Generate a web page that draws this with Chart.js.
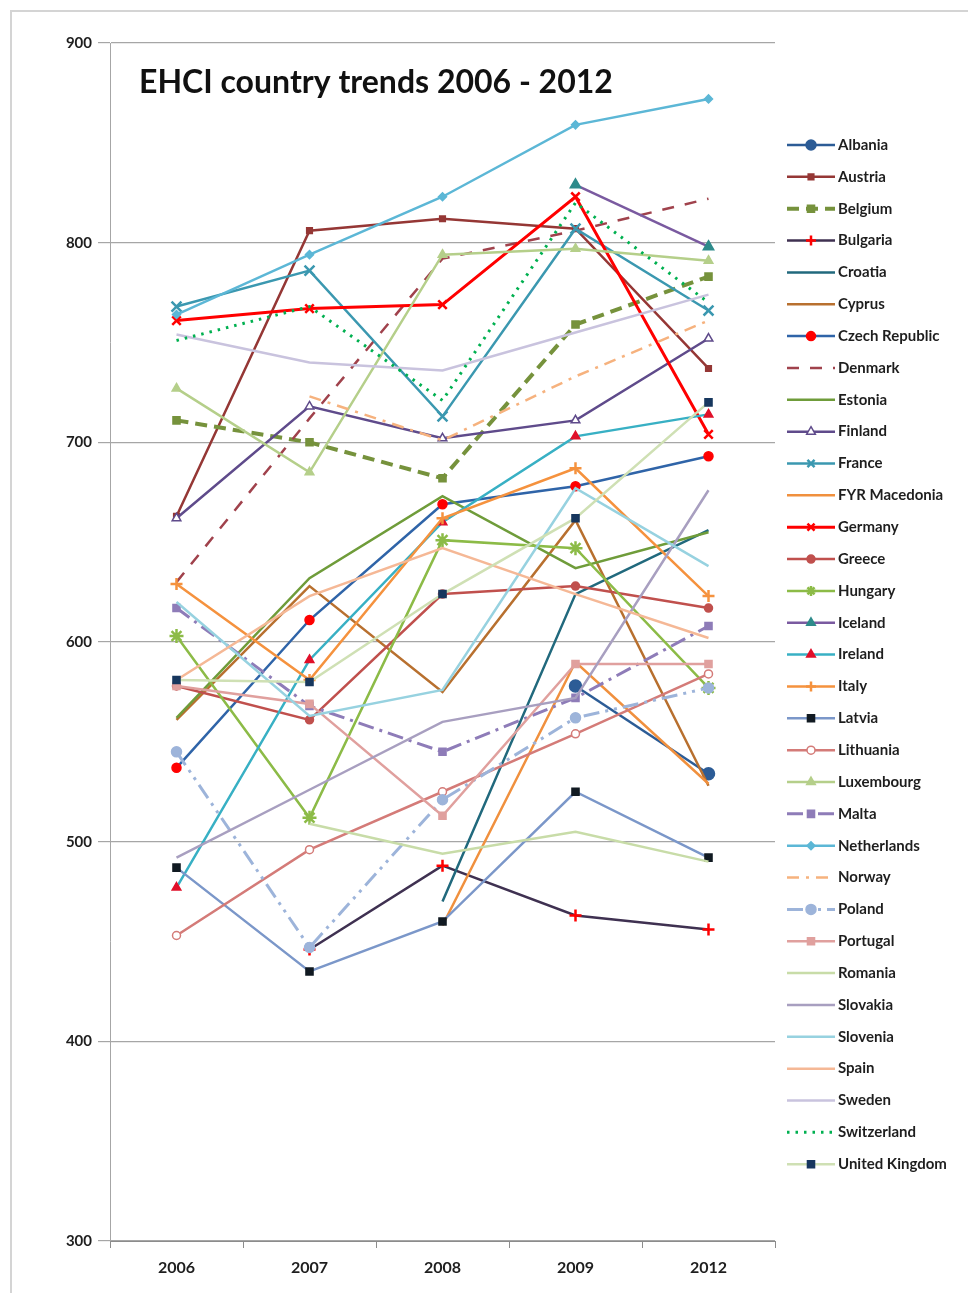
<!DOCTYPE html>
<html>
<head>
<meta charset="utf-8">
<title>EHCI country trends 2006 - 2012</title>
<script src="https://cdn.jsdelivr.net/npm/chart.js@4.4.1/dist/chart.umd.min.js"></script>
<style>
  html, body { margin: 0; padding: 0; background: #ffffff; }
  #wrap { width: 968px; height: 1293px; position: relative; }
</style>
</head>
<body>
<div id="wrap"><canvas id="c" width="968" height="1293"></canvas></div>
<script>
// Survey years on the category axis
const years = ['2006', '2007', '2008', '2009', '2012'];

// Y axis range and tick step
const yMin = 300;
const yMax = 900;
const yStep = 100;

// EHCI total scores per country (null = not covered that year)
const albania     = [null, null, null, 578, 534];
const austria     = [663, 806, 812, 807, 737];
const belgium     = [711, 700, 682, 759, 783];
const bulgaria    = [null, 446, 488, 463, 456];
const croatia     = [null, null, 470, 624, 656];
const cyprus      = [561, 628, 575, 661, 528];
const czechRep    = [537, 611, 669, 678, 693];
const denmark     = [630, 712, 792, 806, 822];
const estonia     = [562, 632, 673, 637, 655];
const finland     = [662, 718, 702, 711, 752];
const france      = [768, 786, 713, 807, 766];
const fyrMacedonia= [null, null, 458, 590, 529];
const germany     = [761, 767, 769, 823, 704];
const greece      = [578, 561, 624, 628, 617];
const hungary     = [603, 512, 651, 647, 577];
const iceland     = [null, null, null, 829, 798];
const ireland     = [477, 591, 660, 703, 714];
const italy       = [629, 581, 662, 687, 623];
const latvia      = [487, 435, 460, 525, 492];
const lithuania   = [453, 496, 525, 554, 584];
const luxembourg  = [727, 685, 794, 797, 791];
const malta       = [617, 568, 545, 572, 608];
const netherlands = [764, 794, 823, 859, 872];
const norway      = [null, 723, 701, 733, 761];
const poland      = [545, 447, 521, 562, 577];
const portugal    = [578, 569, 513, 589, 589];
const romania     = [null, 509, 494, 505, 490];
const slovakia    = [492, 526, 560, 572, 676];
const slovenia    = [620, 563, 576, 677, 638];
const spain       = [581, 623, 647, 624, 602];
const sweden      = [754, 740, 736, 755, 774];
const switzerland = [751, 768, 721, 820, 770];
const unitedKingdom = [581, 580, 624, 662, 720];

// Country names in legend order, paired with their score arrays
const countries = [
  'Albania', 'Austria', 'Belgium', 'Bulgaria', 'Croatia', 'Cyprus', 'Czech Republic',
  'Denmark', 'Estonia', 'Finland', 'France', 'FYR Macedonia', 'Germany', 'Greece',
  'Hungary', 'Iceland', 'Ireland', 'Italy', 'Latvia', 'Lithuania', 'Luxembourg',
  'Malta', 'Netherlands', 'Norway', 'Poland', 'Portugal', 'Romania', 'Slovakia',
  'Slovenia', 'Spain', 'Sweden', 'Switzerland', 'United Kingdom'
];
const scores = [
  albania, austria, belgium, bulgaria, croatia, cyprus, czechRep,
  denmark, estonia, finland, france, fyrMacedonia, germany, greece,
  hungary, iceland, ireland, italy, latvia, lithuania, luxembourg,
  malta, netherlands, norway, poland, portugal, romania, slovakia,
  slovenia, spain, sweden, switzerland, unitedKingdom
];

// Line and marker look for each country, same order as above
// [line colour, line width, dash, marker style, marker radius, marker fill, marker border]
const looks = [
  ['#2c5c96', 2.5, [],            'circle',   6,  '#2c5c96', '#2c5c96'],
  ['#953735', 2.5, [],            'rect',     4,  '#953735', '#953735'],
  ['#76923c', 4,   [12, 7],       'rect',     5,  '#76923c', '#76923c'],
  ['#3f3151', 2.5, [],            'cross',    6,  '#ff0000', '#ff0000'],
  ['#21697d', 2.5, [],            false,      0,  null,      null],
  ['#b8702f', 2.5, [],            false,      0,  null,      null],
  ['#2f64a8', 2.5, [],            'circle',   4.5,'#ff0000', '#ff0000'],
  ['#a0424c', 2.5, [12, 11],      false,      0,  null,      null],
  ['#6f9c3a', 2.5, [],            false,      0,  null,      null],
  ['#5f4b8b', 2.5, [],            'triangle', 5,  '#ffffff', '#5f4b8b'],
  ['#3b98b0', 2.5, [],            'crossRot', 7,  '#3b98b0', '#3b98b0'],
  ['#f0903e', 2.5, [],            false,      0,  null,      null],
  ['#ff0000', 3,   [],            'crossRot', 6,  '#ff0000', '#ff0000'],
  ['#c0504d', 2.5, [],            'circle',   4,  '#c0504d', '#c0504d'],
  ['#8cbb47', 2.5, [],            'star',     7,  '#8cbb47', '#8cbb47'],
  ['#7a5aa0', 2.5, [],            'triangle', 6,  '#2e8b8b', '#2e8b8b'],
  ['#38b0c4', 2.5, [],            'triangle', 5,  '#e0102a', '#e0102a'],
  ['#f5923e', 2.5, [],            'cross',    6,  '#f5923e', '#f5923e'],
  ['#7b97c9', 2.5, [],            'rect',     5,  '#111a22', '#111a22'],
  ['#d47b78', 2.5, [],            'circle',   4,  '#ffffff', '#d47b78'],
  ['#b5cf8a', 2.5, [],            'triangle', 5,  '#b5cf8a', '#b5cf8a'],
  ['#8e7cb8', 3,   [16, 6, 3, 6], 'rect',     5,  '#8e7cb8', '#8e7cb8'],
  ['#5cb7d6', 2.5, [],            'rectRot',  4,  '#5cb7d6', '#5cb7d6'],
  ['#f6b27e', 2.5, [12, 7, 3, 7], false,      0,  null,      null],
  ['#9db4da', 3,   [16, 6, 3, 6, 3, 6], 'circle', 5, '#9db4da', '#9db4da'],
  ['#e0a09e', 2.5, [],            'rect',     5,  '#e0a09e', '#e0a09e'],
  ['#c8dca8', 2.5, [],            false,      0,  null,      null],
  ['#a89fc0', 2.5, [],            false,      0,  null,      null],
  ['#97d2e0', 2.5, [],            false,      0,  null,      null],
  ['#f5b896', 2.5, [],            false,      0,  null,      null],
  ['#c9c3de', 2.5, [],            false,      0,  null,      null],
  ['#00b050', 3,   [2.5, 6],      false,      0,  null,      null],
  ['#cfe0b4', 2.5, [],            'rect',     5,  '#17375e', '#17375e']
];

const datasets = countries.map((name, i) => {
  const [color, width, dash, style, radius, fill, border] = looks[i];
  return {
    label: name,
    data: scores[i],
    borderColor: color,
    borderWidth: width,
    borderDash: dash,
    pointStyle: style,
    pointRadius: radius,
    pointHoverRadius: radius,
    pointBackgroundColor: fill || color,
    pointBorderColor: border || color,
    pointBorderWidth: style === 'cross' || style === 'crossRot' || style === 'star' ? 2.5 : 1.5,
    tension: 0,
    fill: false,
    spanGaps: false,
    order: countries.length - i
  };
});

// White page with a thin grey frame around the whole chart
const framePlugin = {
  id: 'frame',
  beforeDraw(chart) {
    const ctx = chart.ctx;
    ctx.save();
    ctx.fillStyle = '#ffffff';
    ctx.fillRect(0, 0, chart.width, chart.height);
    ctx.strokeStyle = '#d4d4d4';
    ctx.lineWidth = 2;
    ctx.strokeRect(11, 11, chart.width - 8, chart.height + 20);
    ctx.restore();
  }
};

// Title drawn inside the plot area, top left
const titlePlugin = {
  id: 'innerTitle',
  afterDraw(chart) {
    const ctx = chart.ctx;
    ctx.save();
    ctx.font = 'bold 32px Lato, "Open Sans", sans-serif';
    ctx.fillStyle = '#111111';
    ctx.textBaseline = 'middle';
    ctx.textAlign = 'left';
    ctx.fillText('EHCI country trends 2006 - 2012', chart.chartArea.left + 29, chart.chartArea.top + 40);
    ctx.restore();
  }
};

// Single-column legend on the right: line sample with its marker, then the name
const legendPlugin = {
  id: 'sideLegend',
  afterDraw(chart) {
    const ctx = chart.ctx;
    const top = 145;
    const step = 31.85;
    const x0 = chart.chartArea.right + 12;
    const x1 = x0 + 48;
    chart.data.datasets.forEach((ds, i) => {
      const y = top + i * step;
      ctx.save();
      ctx.strokeStyle = ds.borderColor;
      ctx.lineWidth = ds.borderWidth;
      ctx.setLineDash(ds.borderDash || []);
      ctx.beginPath();
      ctx.moveTo(x0, y);
      ctx.lineTo(x1, y);
      ctx.stroke();
      ctx.setLineDash([]);
      if (ds.pointStyle && ds.pointRadius > 0) {
        ctx.fillStyle = ds.pointBackgroundColor;
        ctx.strokeStyle = ds.pointBorderColor;
        ctx.lineWidth = ds.pointBorderWidth;
        const r = Math.min(ds.pointRadius, 5);
        const opts = { pointStyle: ds.pointStyle, radius: r, borderWidth: ds.pointBorderWidth, rotation: 0 };
        if (Chart.helpers && Chart.helpers.drawPoint) {
          Chart.helpers.drawPoint(ctx, opts, (x0 + x1) / 2, y);
        } else {
          ctx.beginPath();
          ctx.arc((x0 + x1) / 2, y, r, 0, Math.PI * 2);
          ctx.fill();
          ctx.stroke();
        }
      }
      ctx.font = 'bold 15px Lato, "Open Sans", sans-serif';
      ctx.fillStyle = '#1e1e1e';
      ctx.textAlign = 'left';
      ctx.textBaseline = 'middle';
      ctx.fillText(ds.label, x1 + 3, y);
      ctx.restore();
    });
  }
};

new Chart(document.getElementById('c'), {
  type: 'line',
  data: { labels: years, datasets },
  options: {
    responsive: false,
    animation: false,
    devicePixelRatio: 1,
    layout: { padding: { top: 43, right: 193, left: 0, bottom: 0 } },
    plugins: {
      legend: { display: false },
      title: { display: false },
      tooltip: { enabled: false }
    },
    scales: {
      x: {
        type: 'category',
        offset: true,
        grid: { offset: true, drawOnChartArea: false, tickLength: 7, color: '#8c8c8c', lineWidth: 1 },
        border: { display: true, color: '#8c8c8c', width: 1 },
        ticks: {
          font: { family: 'Lato, "Open Sans", sans-serif', size: 16, weight: 'bold' },
          color: '#1e1e1e',
          padding: 10
        },
        afterFit(scale) { scale.height = 52; }
      },
      y: {
        min: yMin,
        max: yMax,
        ticks: {
          stepSize: yStep,
          font: { family: 'Lato, "Open Sans", sans-serif', size: 15, weight: 'bold' },
          color: '#1e1e1e',
          padding: 6
        },
        grid: { color: '#a6a6a6', lineWidth: 1.2, tickLength: 12 },
        border: { display: true, color: '#a6a6a6', width: 1 },
        afterFit(scale) { scale.width = 110; }
      }
    }
  },
  plugins: [framePlugin, titlePlugin, legendPlugin]
});
</script>
</body>
</html>
